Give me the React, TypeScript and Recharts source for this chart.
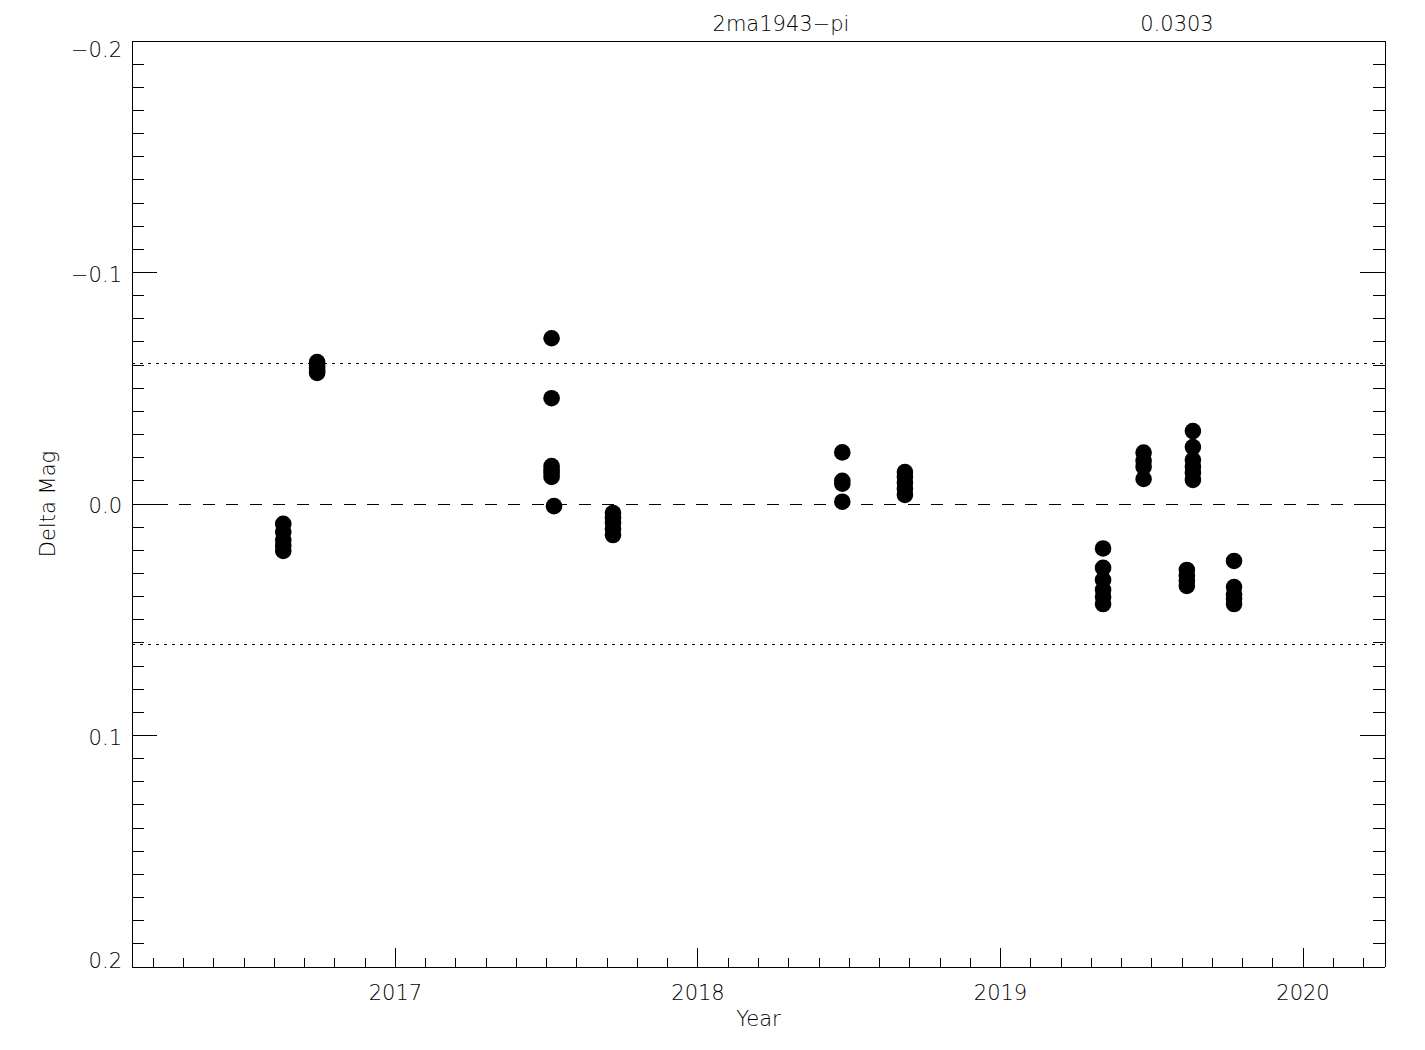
import { ReferenceLine, Scatter, ScatterChart, XAxis, YAxis } from "recharts";

const FONT = "'DejaVu Sans', sans-serif";

// observation epochs (decimal year) and the delta mags measured at each
const EPOCHS = [2016.629, 2016.741, 2017.516, 2017.524, 2017.719, 2018.477, 2018.684, 2019.339, 2019.473, 2019.616, 2019.636, 2019.772];
const MAGS_1 = [0.0086, 0.0121, 0.0156, 0.0181, 0.0203];
const MAGS_2 = [-0.0613, -0.06, -0.0588, -0.0577, -0.0566];
const MAGS_3 = [-0.0716, -0.0457, -0.0164, -0.0147, -0.0134, -0.0117];
const MAGS_4 = [0.0009];
const MAGS_5 = [0.0039, 0.006, 0.0082, 0.0108, 0.0134];
const MAGS_6 = [-0.0223, -0.01, -0.0088, -0.001];
const MAGS_7 = [-0.0138, -0.0117, -0.0091, -0.0065, -0.0039];
const MAGS_8 = [0.0192, 0.0276, 0.0328, 0.0371, 0.0402, 0.0432];
const MAGS_9 = [-0.0222, -0.0186, -0.016, -0.0108];
const MAGS_10 = [0.0285, 0.031, 0.033, 0.0354];
const MAGS_11 = [-0.0315, -0.0246, -0.019, -0.016, -0.0134, -0.0104];
const MAGS_12 = [0.0246, 0.0359, 0.039, 0.041, 0.0432];
const MAGS = [MAGS_1, MAGS_2, MAGS_3, MAGS_4, MAGS_5, MAGS_6, MAGS_7, MAGS_8, MAGS_9, MAGS_10, MAGS_11, MAGS_12];

const TARGET = "2ma1943\u2212pi";
const SIGMA = 0.0303;

const X_DOMAIN = [2016.129, 2020.271];
const Y_DOMAIN = [-0.2, 0.2];
const X_TICKS: number[] = [];
for (let i = 20162; i <= 20202; i++) X_TICKS.push(i / 10);
const Y_TICKS: number[] = [];
for (let i = -20; i <= 20; i++) Y_TICKS.push(i / 100);

const points = EPOCHS.flatMap((yr, i) => MAGS[i].map((m) => ({ x: yr, y: m })));

const W = 1409;
const H = 1034;
// axes are 1px thick, so the plot box ends up at left 124, top 33, right 32, bottom 75
const M = { top: 32, right: 31, bottom: 74, left: 123 };

const isMajorX = (v: number) => Math.abs(v - Math.round(v)) < 1e-6;
const isMajorY = (v: number) => Math.abs(v * 10 - Math.round(v * 10)) < 1e-6;
const fmtY = (v: number) => (v < -1e-9 ? "\u2212" + Math.abs(v).toFixed(1) : Math.abs(v).toFixed(1));

const LINE = { stroke: "#000", shapeRendering: "crispEdges" } as const;

function BottomTick({ x, y, payload }: any) {
  const major = isMajorX(payload.value);
  return (
    <g>
      <line x1={x} x2={x} y1={y} y2={y - (major ? 19 : 9)} {...LINE} />
      {major && (
        <text x={x} y={y + 33} textAnchor="middle" fontFamily={FONT} fontSize={21} fontWeight={300} fill="#000">
          {Math.round(payload.value)}
        </text>
      )}
    </g>
  );
}

function TopTick({ x, y, payload }: any) {
  const major = isMajorX(payload.value);
  return <line x1={x} x2={x} y1={y} y2={y + (major ? 19 : 9)} {...LINE} />;
}

function LeftTick({ x, y, payload }: any) {
  const v = payload.value;
  const major = isMajorY(v);
  let dy = 9;
  if (v <= -0.2 + 1e-9) dy = 16;
  if (v >= 0.2 - 1e-9) dy = 1;
  return (
    <g>
      <line x1={x} x2={x + (major ? 25 : 12)} y1={y} y2={y} {...LINE} />
      {major && (
        <text x={x - 10} y={y + dy} textAnchor="end" fontFamily={FONT} fontSize={21} fontWeight={300} fill="#000">
          {fmtY(v)}
        </text>
      )}
    </g>
  );
}

function RightTick({ x, y, payload }: any) {
  const major = isMajorY(payload.value);
  return <line x1={x} x2={x - (major ? 25 : 12)} y1={y} y2={y} {...LINE} />;
}

const Dot = ({ cx, cy }: any) => <circle cx={cx} cy={cy} r={8.3} fill="#000" />;

export default function App() {
  const plotCx = M.left + 1 + (W - M.left - M.right - 2) / 2;
  return (
    <div style={{ position: "relative", width: W, height: H, background: "#fff" }}>
      <ScatterChart width={W} height={H} margin={M}>
        <XAxis
          dataKey="x"
          type="number"
          domain={X_DOMAIN}
          ticks={X_TICKS}
          interval={0}
          allowDataOverflow
          height={1}
          tickSize={0}
          tickMargin={0}
          tickLine={false}
          axisLine={LINE}
          tick={<BottomTick />}
        />
        <XAxis
          xAxisId="top"
          orientation="top"
          type="number"
          domain={X_DOMAIN}
          ticks={X_TICKS}
          interval={0}
          allowDataOverflow
          height={1}
          tickSize={0}
          tickMargin={0}
          tickLine={false}
          axisLine={LINE}
          tick={<TopTick />}
        />
        <YAxis
          dataKey="y"
          type="number"
          domain={Y_DOMAIN}
          ticks={Y_TICKS}
          interval={0}
          reversed
          allowDataOverflow
          width={1}
          tickSize={0}
          tickMargin={0}
          tickLine={false}
          axisLine={LINE}
          tick={<LeftTick />}
        />
        <YAxis
          yAxisId="right"
          orientation="right"
          type="number"
          domain={Y_DOMAIN}
          ticks={Y_TICKS}
          interval={0}
          reversed
          allowDataOverflow
          width={1}
          tickSize={0}
          tickMargin={0}
          tickLine={false}
          axisLine={LINE}
          tick={<RightTick />}
        />
        <ReferenceLine y={0} {...LINE} strokeDasharray="12 11.5" />
        <ReferenceLine y={-2 * SIGMA} {...LINE} strokeDasharray="3 5" />
        <ReferenceLine y={2 * SIGMA} {...LINE} strokeDasharray="3 5" />
        <Scatter data={points} fill="#000" shape={<Dot />} isAnimationActive={false} />
      </ScatterChart>
      <svg width={W} height={H} style={{ position: "absolute", left: 0, top: 0, pointerEvents: "none" }}>
        <g fontFamily={FONT} fontSize={21} fontWeight={300} fill="#000">
          <text x={773} y={23} textAnchor="middle">{TARGET}</text>
          <text x={1169} y={23} textAnchor="middle">{SIGMA.toFixed(4)}</text>
          <text x={plotCx} y={1018} textAnchor="middle">Year</text>
          <text x={0} y={0} textAnchor="middle" transform={`translate(47, 496) rotate(-90)`}>Delta Mag</text>
        </g>
      </svg>
    </div>
  );
}
